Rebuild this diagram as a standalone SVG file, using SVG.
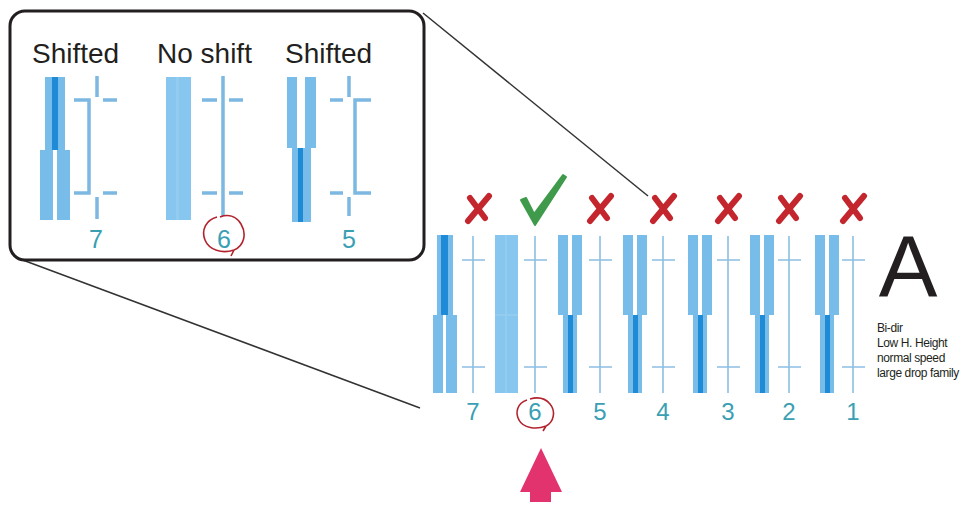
<svg xmlns="http://www.w3.org/2000/svg" width="979" height="506" viewBox="0 0 979 506">
<style>
.lt{fill:#78bdea}
.lt2{fill:#86c6ef}
.dk{fill:#1f8bd6}
.ln{stroke:#8cbfe2;stroke-width:1.6;fill:none}
.iln{stroke:#7db8e2;stroke-width:3.5;fill:none}
.num{font-family:"Liberation Sans",Arial,sans-serif;fill:#3b9fb4;text-anchor:middle}
.hdr{font-family:"Liberation Sans",Arial,sans-serif;font-size:28px;fill:#231f20}
.x{stroke:#c4262e;stroke-linecap:round;fill:none}
.note{font-family:"Liberation Sans",Arial,sans-serif;font-size:12px;fill:#231f20;letter-spacing:-0.4px}
.scrib{stroke:#b3232d;stroke-width:1.6;fill:none}
</style>
<rect width="979" height="506" fill="#ffffff"/>

<g id="connectors" stroke="#333" stroke-width="1.5" fill="none">
<line x1="423" y1="13" x2="648" y2="196"/>
<line x1="20" y1="259" x2="420" y2="408"/>
</g>

<g id="callout">
<rect x="10" y="11" width="414" height="249" rx="15" ry="15" fill="#fff" stroke="#231f20" stroke-width="3"/>
<text class="hdr" x="32" y="63">Shifted</text>
<text class="hdr" x="157" y="63">No shift</text>
<text class="hdr" x="285" y="63">Shifted</text>
</g>

<g id="inset-col7">
<rect class="lt" x="45" y="77" width="20" height="73"/>
<rect class="dk" x="52" y="77" width="6" height="73"/>
<rect class="lt" x="40" y="150" width="13" height="70"/>
<rect class="lt" x="57" y="150" width="13" height="70"/>
<path class="iln" d="M97 76V97M103 100H117M74 100H89V193H74M103 193H117M97 197V219"/>
<text class="num" x="96" y="248" font-size="25">7</text>
</g>

<g id="inset-col6">
<rect class="lt2" x="166" y="77" width="25" height="143"/>
<rect fill="#94ccf0" x="176" y="77" width="3" height="143"/>
<path class="iln" d="M223 76V216M202 100H217M229 100H243M202 193H217M229 193H243"/>
<text class="num" x="224" y="248" font-size="25">6</text>
<path class="scrib" d="M217 217C206 220 201 230 205 240C209 250 222 254 234 250C244 246 247 234 241 224C236 216 228 214 220 217M234 250L231 256"/>
</g>

<g id="inset-col5">
<rect class="lt" x="287" y="77" width="10" height="71"/>
<rect class="lt" x="305" y="77" width="11" height="71"/>
<rect class="lt" x="292" y="148" width="19" height="74"/>
<rect class="dk" x="298" y="148" width="5" height="74"/>
<path class="iln" d="M349 76V97M330 100H343M371 100H355V193H371M330 193H343M349 197V216"/>
<text class="num" x="349" y="248" font-size="25">5</text>
</g>

<g id="main-col7">
<rect class="lt" x="437" y="235" width="16" height="80"/>
<rect class="dk" x="441" y="235" width="7" height="80"/>
<rect class="lt" x="433" y="315" width="10" height="78"/>
<rect class="lt" x="446" y="315" width="11" height="78"/>
<path class="ln" d="M473 236V393M462 260H485M462 367H485"/>
<text class="num" x="473" y="420" font-size="24">7</text>
</g>

<g id="main-col6">
<rect class="lt2" x="495" y="235" width="23" height="158"/>
<rect fill="#94ccf0" x="505" y="235" width="2" height="158"/>
<rect fill="#94ccf0" x="495" y="314" width="23" height="2"/>
<path class="ln" d="M535 236V393M524 260H547M524 367H547"/>
<text class="num" x="535" y="420" font-size="24">6</text>
<path class="scrib" d="M527 400C517 403 515 413 519 420C523 428 536 430 546 426C554 422 556 411 550 404C545 398 537 397 530 399M546 426L543 431"/>
</g>

<g id="main-col5">
<rect class="lt" x="558" y="235" width="10" height="80"/>
<rect class="lt" x="572" y="235" width="10" height="80"/>
<rect class="lt" x="563" y="315" width="14" height="78"/>
<rect class="dk" x="568" y="315" width="5" height="78"/>
<path class="ln" d="M600 236V393M589 260H612M589 367H612"/>
<text class="num" x="600" y="420" font-size="24">5</text>
</g>

<g id="main-col4">
<rect class="lt" x="623" y="235" width="10" height="80"/>
<rect class="lt" x="637" y="235" width="10" height="80"/>
<rect class="lt" x="628" y="315" width="14" height="78"/>
<rect class="dk" x="633" y="315" width="5" height="78"/>
<path class="ln" d="M663 236V393M652 260H675M652 367H675"/>
<text class="num" x="663" y="420" font-size="24">4</text>
</g>

<g id="main-col3">
<rect class="lt" x="688" y="235" width="10" height="80"/>
<rect class="lt" x="702" y="235" width="10" height="80"/>
<rect class="lt" x="693" y="315" width="14" height="78"/>
<rect class="dk" x="698" y="315" width="5" height="78"/>
<path class="ln" d="M728 236V393M717 260H740M717 367H740"/>
<text class="num" x="728" y="420" font-size="24">3</text>
</g>

<g id="main-col2">
<rect class="lt" x="750" y="235" width="10" height="80"/>
<rect class="lt" x="764" y="235" width="10" height="80"/>
<rect class="lt" x="755" y="315" width="14" height="78"/>
<rect class="dk" x="760" y="315" width="5" height="78"/>
<path class="ln" d="M789 236V393M778 260H801M778 367H801"/>
<text class="num" x="789" y="420" font-size="24">2</text>
</g>

<g id="main-col1">
<rect class="lt" x="815" y="235" width="10" height="80"/>
<rect class="lt" x="829" y="235" width="10" height="80"/>
<rect class="lt" x="820" y="315" width="14" height="78"/>
<rect class="dk" x="825" y="315" width="5" height="78"/>
<path class="ln" d="M853 236V393M842 260H865M842 367H865"/>
<text class="num" x="853" y="420" font-size="24">1</text>
</g>

<g id="marks">
<path class="x" stroke-width="6" d="M489 196L468 221M470 198L485 218" transform="translate(0,0)"/>
<path class="x" stroke-width="6" d="M611 196L590 221M592 198L607 218"/>
<path class="x" stroke-width="6" d="M674 196L653 221M655 198L670 218"/>
<path class="x" stroke-width="6" d="M739 196L718 221M720 198L735 218"/>
<path class="x" stroke-width="6" d="M800 196L779 221M781 198L796 218"/>
<path class="x" stroke-width="6" d="M864 196L843 221M845 198L860 218"/>
<path d="M521 200L526 198L534 214L563 175L566 177L535 225Z" fill="#3f9b4b" stroke="#3f9b4b" stroke-width="2" stroke-linejoin="round"/>
</g>

<g id="label-A">
<text x="908" y="297" font-family="'Liberation Sans',Arial,sans-serif" font-size="88" fill="#231f20" text-anchor="middle">A</text>
</g>

<g id="notes">
<text class="note" x="877" y="332">Bi-dir</text>
<text class="note" x="877" y="347">Low H. Height</text>
<text class="note" x="877" y="362">normal speed</text>
<text class="note" x="877" y="377">large drop family</text>
</g>

<g id="arrow">
<path d="M541 448L562 492H551V502H530V492H520Z" fill="#e2336f"/>
</g>
</svg>
